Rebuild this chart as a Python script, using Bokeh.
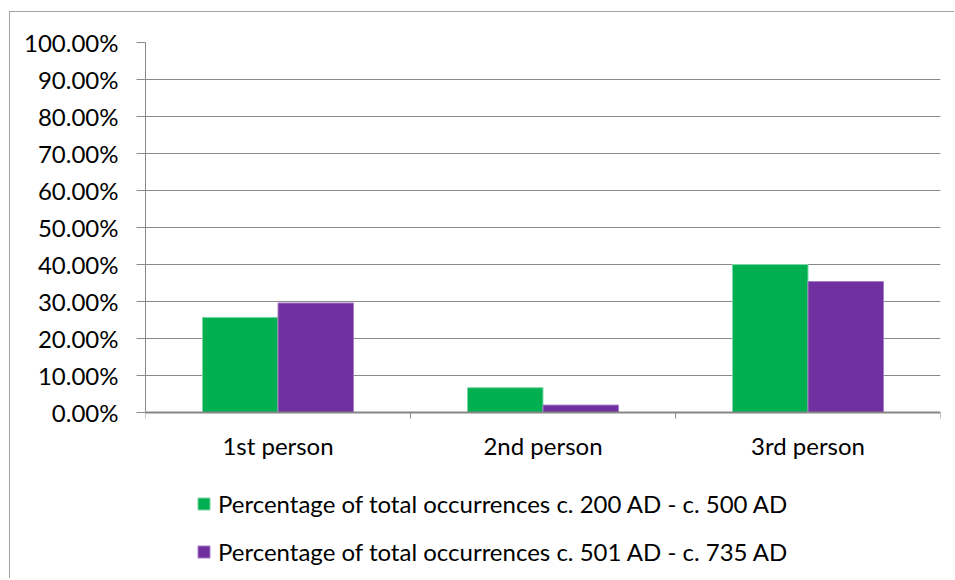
import numpy as np
from bokeh.plotting import figure
from bokeh.models import (Range1d, FixedTicker, NumeralTickFormatter, Legend,
                          LegendItem, ColumnDataSource)
from bokeh.embed import file_html
from bokeh.resources import INLINE

# Share of total occurrences by grammatical person, for two periods
categories = ["1st person", "2nd person", "3rd person"]
period_labels = [
    "Percentage of total occurrences c. 200 AD - c. 500 AD",
    "Percentage of total occurrences c. 501 AD - c. 735 AD",
]
early = [0.257, 0.067, 0.400]
late = [0.296, 0.020, 0.354]
y_ticks = [0.0, 0.1, 0.2, 0.3, 0.4, 0.5, 0.6, 0.7, 0.8, 0.9, 1.0]

GREEN = "#00B050"
PURPLE = "#7030A0"
GRID = "#8a8a8a"
FONT = "Lato"

# The frame runs down to the bottom of the chart so that the legend can sit
# inside it; the value axis only covers the upper 370 px (0 % .. 100 %).
FRAME_H = 536
SCALE_H = 370
y_start = -(FRAME_H - SCALE_H) / SCALE_H

centers = np.arange(len(categories)) + 0.5
bar_w = 0.285

src_early = ColumnDataSource(dict(x=centers - bar_w / 2, top=early))
src_late = ColumnDataSource(dict(x=centers + bar_w / 2, top=late))

p = figure(width=944, height=566, frame_width=795, frame_height=FRAME_H,
           output_backend="svg", toolbar_location=None,
           x_range=Range1d(0, len(categories)), y_range=Range1d(y_start, 1),
           min_border_left=135, min_border_right=14, min_border_top=30,
           min_border_bottom=0)
p.margin = (11, 0, 0, 9)
p.styles = {"border-top": "1px solid #a3a3a3", "border-left": "1px solid #a3a3a3"}
p.outline_line_color = None
p.background_fill_color = "white"
p.border_fill_color = "white"

r1 = p.vbar(x="x", top="top", width=bar_w, source=src_early,
            fill_color=GREEN, line_color="#7dd6a5", line_width=1)
r2 = p.vbar(x="x", top="top", width=bar_w, source=src_late,
            fill_color=PURPLE, line_color="#a57fc6", line_width=1)

# y axis: percentages with gridlines every 10 %
p.yaxis.ticker = FixedTicker(ticks=y_ticks)
p.yaxis.formatter = NumeralTickFormatter(format="0.00%")
p.yaxis.bounds = (0, 1)
p.yaxis.axis_line_color = GRID
p.yaxis.major_tick_line_color = GRID
p.yaxis.major_tick_out = 9
p.yaxis.major_tick_in = 0
p.yaxis.minor_tick_line_color = None
p.yaxis.major_label_standoff = 18
p.yaxis.major_label_text_font = FONT
p.yaxis.major_label_text_font_size = "24px"
p.yaxis.major_label_text_color = "black"

p.ygrid.ticker = FixedTicker(ticks=y_ticks)
p.ygrid.grid_line_color = GRID
p.ygrid.grid_line_width = 1
p.xgrid.grid_line_color = None

# x axis at 0 %: category names centred, tick marks on the category boundaries
p.xaxis.fixed_location = 0
p.xaxis.ticker = FixedTicker(ticks=list(centers),
                             minor_ticks=list(range(len(categories) + 1)))
p.xaxis.major_label_overrides = {float(c): name for c, name in zip(centers, categories)}
p.xaxis.major_tick_line_color = None
p.xaxis.major_tick_out = 0
p.xaxis.major_tick_in = 0
p.xaxis.minor_tick_line_color = GRID
p.xaxis.minor_tick_out = 6
p.xaxis.minor_tick_in = 0
p.xaxis.axis_line_color = "#868686"
p.xaxis.axis_line_width = 2
p.xaxis.major_label_standoff = 12
p.xaxis.major_label_text_font = FONT
p.xaxis.major_label_text_font_size = "24px"
p.xaxis.major_label_text_color = "black"

legend = Legend(items=[LegendItem(label=period_labels[0], renderers=[r1]),
                       LegendItem(label=period_labels[1], renderers=[r2])],
                location=(51, 12), orientation="vertical",
                glyph_width=15, glyph_height=15, label_standoff=7,
                spacing=19, padding=0, margin=0, border_line_color=None,
                background_fill_alpha=0,
                label_text_font=FONT, label_text_font_size="24px",
                label_text_color="black")
p.add_layout(legend, "center")

open("out.html", "w").write(file_html(p, INLINE))
